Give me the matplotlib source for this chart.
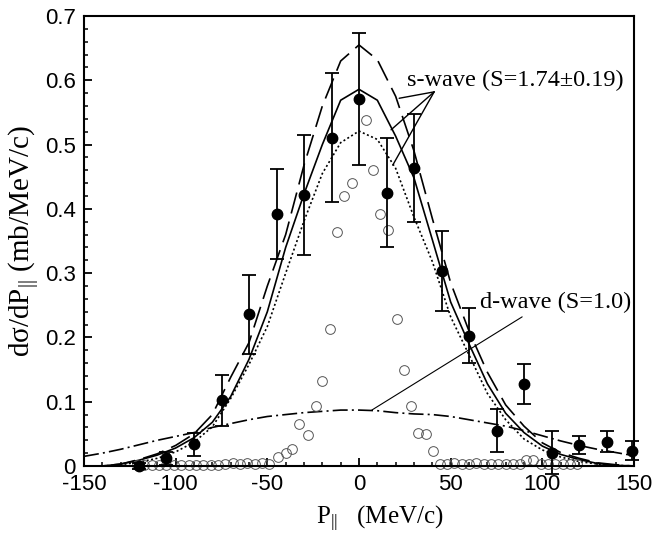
import matplotlib
matplotlib.use('Agg')
import matplotlib.pyplot as plt
from matplotlib.ticker import MultipleLocator

plt.rcParams['mathtext.fontset'] = 'custom'
plt.rcParams['mathtext.rm'] = 'Liberation Serif'
plt.rcParams['mathtext.it'] = 'Liberation Serif:italic'
plt.rcParams['axes.unicode_minus'] = False

# measured momentum distribution (filled points with error bars)
p_data = [-120, -105, -90, -75, -60, -45, -30, -15, 0, 15, 30, 45, 60, 75, 90, 105, 120, 135, 149]
y_data = [0.0, 0.012, 0.034, 0.102, 0.236, 0.392, 0.422, 0.511, 0.571, 0.425, 0.464, 0.303,
          0.203, 0.055, 0.127, 0.021, 0.032, 0.038, 0.024]
y_err = [0.004, 0.01, 0.018, 0.04, 0.061, 0.07, 0.093, 0.1, 0.103, 0.085, 0.084, 0.062,
         0.043, 0.033, 0.031, 0.033, 0.014, 0.016, 0.015]

# open circles
p_open = [-121, -117, -113, -109, -105, -101, -97, -93, -89, -85, -81, -77, -73, -69, -65,
          -61, -57, -53, -49, -44, -40, -36.6, -33, -27.7, -23.7, -20, -15.8, -11.8, -8.1,
          -4, 3.7, 7.7, 11.4, 15.6, 20.6, 24.4, 28.5, 32.2, 36.8, 40.4, 44, 48, 52, 56, 60,
          64, 68, 72, 76, 80, 84, 88, 91, 95, 99, 103, 107, 111, 115, 119]
y_open = [0.002, 0.002, 0.002, 0.002, 0.002, 0.002, 0.002, 0.002, 0.002, 0.002, 0.002, 0.002,
          0.003, 0.005, 0.003, 0.005, 0.003, 0.005, 0.003, 0.014, 0.02, 0.026, 0.065, 0.049,
          0.093, 0.133, 0.213, 0.364, 0.42, 0.44, 0.538, 0.461, 0.392, 0.367, 0.228, 0.149,
          0.093, 0.052, 0.05, 0.024, 0.003, 0.003, 0.004, 0.003, 0.003, 0.004, 0.003, 0.003,
          0.003, 0.003, 0.003, 0.003, 0.01, 0.009, 0.003, 0.003, 0.003, 0.003, 0.003, 0.003]

# calculated curves
p_calc = list(range(-150, 151, 10))
s_dashed = [0.0, 0.0, 0.003, 0.01, 0.019, 0.032, 0.05, 0.08, 0.138, 0.192, 0.28, 0.36, 0.468,
            0.56, 0.63, 0.655, 0.632, 0.575, 0.49, 0.385, 0.285, 0.21, 0.146, 0.095, 0.062,
            0.036, 0.021, 0.012, 0.005, 0.002, 0.0]
s_solid = [0.0, 0.0, 0.003, 0.009, 0.017, 0.028, 0.044, 0.068, 0.108, 0.166, 0.24, 0.34, 0.423,
           0.5, 0.569, 0.586, 0.569, 0.513, 0.448, 0.352, 0.255, 0.19, 0.128, 0.082, 0.052,
           0.031, 0.018, 0.01, 0.004, 0.001, 0.0]
s_dotted = [0.0, 0.0, 0.002, 0.006, 0.012, 0.022, 0.037, 0.061, 0.105, 0.158, 0.217, 0.3, 0.381,
            0.455, 0.503, 0.521, 0.508, 0.463, 0.387, 0.318, 0.232, 0.173, 0.113, 0.072, 0.042,
            0.025, 0.014, 0.007, 0.003, 0.001, 0.0]
d_wave = [0.015, 0.02, 0.026, 0.033, 0.04, 0.046, 0.052, 0.06, 0.066, 0.072, 0.077, 0.08, 0.083,
          0.085, 0.087, 0.087, 0.086, 0.083, 0.081, 0.08, 0.077, 0.072, 0.067, 0.062, 0.055,
          0.047, 0.039, 0.032, 0.026, 0.021, 0.016]

serif = 'Liberation Serif'
sans = 'Liberation Sans'

fig = plt.figure(figsize=(6.52, 5.33), dpi=100)
ax = fig.add_axes([84 / 652, 1 - 466 / 533, 550 / 652, 450 / 533])

lw = 1.2
ax.plot(p_calc, s_dashed, color='black', lw=lw, dashes=(13, 5))
ax.plot(p_calc, s_solid, color='black', lw=lw)
ax.plot(p_calc, s_dotted, color='black', lw=lw, dashes=(1.2, 1.5))
ax.plot(p_calc, d_wave, color='black', lw=lw, dashes=(9, 2.5, 1.2, 2.5))

ax.plot(p_open, y_open, 'o', mfc='none', mec='#555555', mew=0.7, ms=7, clip_on=False)
ax.errorbar(p_data, y_data, yerr=y_err, fmt='o', color='black', ms=7.5, elinewidth=1.3,
            capsize=5, capthick=1.3, clip_on=False, zorder=5)

# labels pointing to the curves
apex = (41, 0.582)
for end in [(21.9, 0.572), (17.5, 0.523), (18.4, 0.468)]:
    ax.annotate('', xy=end, xytext=apex,
                arrowprops=dict(arrowstyle='-', lw=1.0, color='black', shrinkA=0, shrinkB=0))
ax.text(26, 0.599, 's-wave (S=1.74±0.19)', family=serif, fontsize=17.5, va='center', ha='left')

ax.annotate('', xy=(7, 0.087), xytext=(89, 0.232),
            arrowprops=dict(arrowstyle='-', lw=0.8, color='black', shrinkA=0, shrinkB=0))
ax.text(66, 0.254, 'd-wave (S=1.0)', family=serif, fontsize=17.5, va='center', ha='left')

ax.set_xlim(-150, 150)
ax.set_ylim(0, 0.7)
ax.xaxis.set_major_locator(MultipleLocator(50))
ax.xaxis.set_minor_locator(MultipleLocator(10))
ax.yaxis.set_minor_locator(MultipleLocator(0.02))
ax.set_yticks([0, 0.1, 0.2, 0.3, 0.4, 0.5, 0.6, 0.7])
ax.set_yticklabels(['0', '0.1', '0.2', '0.3', '0.4', '0.5', '0.6', '0.7'])

ax.tick_params(which='major', direction='in', length=6, width=1.3, labelsize=16, pad=6)
ax.tick_params(which='minor', direction='in', length=3, width=1.1)
for lab in ax.get_xticklabels() + ax.get_yticklabels():
    lab.set_family(sans)
for sp in ax.spines.values():
    sp.set_linewidth(1.5)

ax.set_xlabel(r'P$_{\mathrm{||}}$   (MeV/c)', family=serif, fontsize=18, labelpad=1)
ax.xaxis.set_label_coords(0.538, -0.085)
ax.set_ylabel(r'd$\mathrm{\sigma}$/dP$_{\mathrm{||}}$ (mb/MeV/c)', family=serif, fontsize=21,
              labelpad=2)

fig.savefig('out.png', dpi=100)
